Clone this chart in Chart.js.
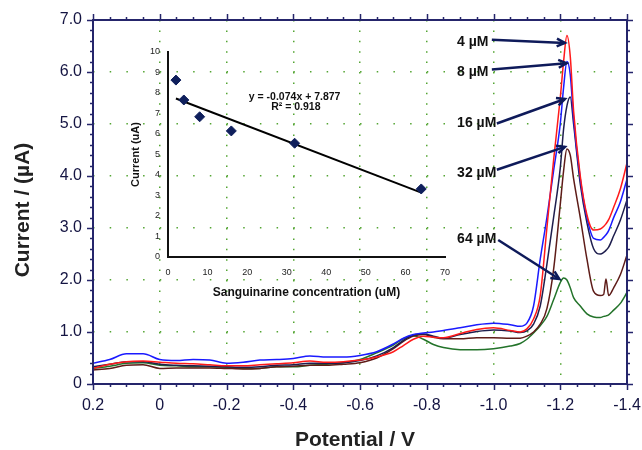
<!DOCTYPE html>
<html>
<head>
<meta charset="utf-8">
<script src="https://cdn.jsdelivr.net/npm/chart.js@4.4.0/dist/chart.umd.min.js"></script>
<style>
  html, body { margin: 0; padding: 0; background: #fff; }
  #wrap { position: relative; width: 642px; height: 450px; }
  #mainChart { position: absolute; left: 0; top: 0; }
  #insetChart { position: absolute; left: 120px; top: 40px; }
</style>
</head>
<body>
<div id="wrap">
  <canvas id="mainChart" width="642" height="450"></canvas>
  <canvas id="insetChart" width="340" height="265"></canvas>
</div>
<script>
// Data ------------------------------------------------------------

// potential (V), scanned from 0.2 down to -1.4
const potentials = [0.2, 0.15, 0.1, 0.05, 0, -0.05, -0.1, -0.15, -0.2, -0.25, -0.3, -0.35, -0.4, -0.45, -0.5, -0.55, -0.6, -0.65, -0.7,
  -0.73, -0.76, -0.79, -0.82, -0.85, -0.9, -0.95, -1.0, -1.05,
  -1.08, -1.1, -1.12, -1.14, -1.16, -1.18, -1.2, -1.21, -1.22, -1.23, -1.24,
  -1.26, -1.28, -1.3, -1.32, -1.33, -1.337, -1.345, -1.36, -1.38, -1.4];

// current (uA) for each concentration
const current4uM = [0.30, 0.38, 0.43, 0.44, 0.42, 0.40, 0.39, 0.37, 0.35, 0.35, 0.37, 0.39, 0.41, 0.44, 0.42, 0.43, 0.46, 0.52, 0.62,
  0.74, 0.86, 0.92, 0.90, 0.89, 0.97, 1.05, 1.08, 1.03,
  1.00, 1.06, 1.25, 1.70, 3.00, 4.30, 5.50, 6.20, 6.70, 6.30, 5.25,
  4.00, 3.25, 2.96, 2.98, 3.03, 3.08, 3.16, 3.40, 3.75, 4.25];
const current8uM = [0.40, 0.47, 0.58, 0.58, 0.47, 0.45, 0.47, 0.46, 0.40, 0.42, 0.46, 0.47, 0.49, 0.54, 0.52, 0.52, 0.55, 0.62, 0.77,
  0.88, 0.95, 0.98, 1.00, 1.03, 1.08, 1.14, 1.17, 1.14,
  1.11, 1.17, 1.50, 2.40, 3.20, 4.10, 5.00, 5.70, 6.20, 5.95, 5.10,
  3.95, 3.20, 2.80, 2.77, 2.82, 2.87, 2.95, 3.20, 3.50, 3.94];
const current16uM = [0.33, 0.38, 0.43, 0.43, 0.38, 0.36, 0.35, 0.34, 0.33, 0.32, 0.33, 0.36, 0.37, 0.40, 0.40, 0.41, 0.45, 0.54, 0.70,
  0.84, 0.94, 0.96, 0.92, 0.88, 0.95, 1.01, 1.04, 1.02,
  0.99, 1.02, 1.15, 1.50, 2.30, 3.20, 4.15, 4.90, 5.35, 5.52, 5.00,
  3.85, 3.10, 2.60, 2.50, 2.53, 2.57, 2.63, 2.85, 3.15, 3.54];
const current32uM = [0.27, 0.30, 0.36, 0.37, 0.30, 0.31, 0.31, 0.31, 0.30, 0.29, 0.30, 0.33, 0.34, 0.36, 0.36, 0.38, 0.41, 0.50, 0.68,
  0.82, 0.92, 0.95, 0.90, 0.87, 0.87, 0.89, 0.89, 0.88,
  0.88, 0.92, 1.00, 1.15, 1.45, 2.20, 3.45, 4.10, 4.52, 4.40, 3.95,
  3.20, 2.40, 1.78, 1.70, 1.72, 2.02, 1.70, 1.85, 2.10, 2.48];
const current64uM = [0.30, 0.34, 0.40, 0.41, 0.36, 0.35, 0.33, 0.33, 0.32, 0.30, 0.30, 0.33, 0.33, 0.36, 0.38, 0.41, 0.47, 0.60, 0.75,
  0.87, 0.93, 0.86, 0.76, 0.70, 0.66, 0.66, 0.68, 0.73,
  0.78, 0.86, 0.98, 1.12, 1.30, 1.62, 1.95, 2.04, 2.00, 1.85, 1.66,
  1.50, 1.35, 1.29, 1.28, 1.30, 1.31, 1.33, 1.42, 1.55, 1.76];

const seriesNames = ['4 µM', '8 µM', '16 µM', '32 µM', '64 µM'];
const seriesValues = [current4uM, current8uM, current16uM, current32uM, current64uM];
const seriesColors = ['#ff1a1a', '#1a1aff', '#1e1e4e', '#5e1c18', '#23732a'];

// inset: peak current vs concentration
const concentrations = [2, 4, 8, 16, 32, 64];
const peakCurrents = [8.63, 7.66, 6.84, 6.15, 5.55, 3.32];
const trendSlope = -0.074;
const trendIntercept = 7.877;

// arrow notes on the main plot (potential, current)
const noteTextAt = [[-0.891, 6.58], [-0.891, 5.99], [-0.891, 5.02], [-0.891, 4.06], [-0.891, 2.78]];
const noteFrom = [[-0.995, 6.62], [-0.995, 6.05], [-1.010, 5.01], [-1.010, 4.12], [-1.014, 2.77]];
const noteTo = [[-1.214, 6.56], [-1.219, 6.17], [-1.214, 5.48], [-1.214, 4.56], [-1.197, 2.02]];

// helpers ---------------------------------------------------------

const FONT = '"Liberation Sans", Arial, sans-serif';
const axisColor = '#25256b';
const dotColor = 'rgba(75, 160, 40, 0.95)';

const isMajor = (v, step) => Math.abs(v / step - Math.round(v / step)) < 1e-6;
const fmt = (v) => Math.abs(v) < 1e-9 ? '0' : v.toFixed(1);

// fixed scale boxes, no extra padding for edge labels
const fixHeight = (h) => (s) => { s.height = h; s.paddingLeft = 0; s.paddingRight = 0; };
const fixWidth = (w) => (s) => { s.width = w; s.paddingTop = 0; s.paddingBottom = 0; };

function drawArrow(ctx, x1, y1, x2, y2) {
  const ang = Math.atan2(y2 - y1, x2 - x1);
  const h = 9;
  ctx.beginPath();
  ctx.moveTo(x1, y1);
  ctx.lineTo(x2, y2);
  ctx.stroke();
  ctx.beginPath();
  ctx.moveTo(x2 - h * Math.cos(ang - 0.45), y2 - h * Math.sin(ang - 0.45));
  ctx.lineTo(x2, y2);
  ctx.lineTo(x2 - h * Math.cos(ang + 0.45), y2 - h * Math.sin(ang + 0.45));
  ctx.stroke();
}

// frame, minor ticks, axis titles and arrows for the main plot
const mainDecor = {
  id: 'mainDecor',
  afterDraw(chart) {
    const { ctx, chartArea: a, scales: { x, y } } = chart;
    ctx.save();
    ctx.strokeStyle = axisColor;
    ctx.lineWidth = 1.5;
    ctx.beginPath();
    x.ticks.forEach(t => {
      const px = Math.round(x.getPixelForValue(t.value)) + 0.5;
      const len = isMajor(t.value, 0.2) ? 6 : 3;
      ctx.moveTo(px, a.bottom); ctx.lineTo(px, a.bottom + len);
      ctx.moveTo(px, a.top); ctx.lineTo(px, a.top - len);
    });
    y.ticks.forEach(t => {
      const py = Math.round(y.getPixelForValue(t.value)) + 0.5;
      const len = isMajor(t.value, 1) ? 6 : 3;
      ctx.moveTo(a.left, py); ctx.lineTo(a.left - len, py);
      ctx.moveTo(a.right, py); ctx.lineTo(a.right + len, py);
    });
    ctx.stroke();
    ctx.lineWidth = 2;
    ctx.strokeRect(a.left, a.top, a.right - a.left, a.bottom - a.top);

    // axis titles
    ctx.fillStyle = '#222';
    ctx.font = 'bold 21px ' + FONT;
    ctx.textAlign = 'center';
    ctx.textBaseline = 'middle';
    ctx.fillText('Potential / V', 355, 440);
    ctx.save();
    ctx.translate(23, 210);
    ctx.rotate(-Math.PI / 2);
    ctx.fillText('Current / (µA)', 0, 0);
    ctx.restore();

    // concentration labels with arrows
    ctx.font = 'bold 14px ' + FONT;
    ctx.textAlign = 'left';
    ctx.fillStyle = '#111';
    ctx.strokeStyle = '#0e1a5a';
    ctx.lineWidth = 2.5;
    seriesNames.forEach((name, i) => {
      ctx.fillText(name, x.getPixelForValue(noteTextAt[i][0]), y.getPixelForValue(noteTextAt[i][1]));
      drawArrow(ctx,
        x.getPixelForValue(noteFrom[i][0]), y.getPixelForValue(noteFrom[i][1]),
        x.getPixelForValue(noteTo[i][0]), y.getPixelForValue(noteTo[i][1]));
    });
    ctx.restore();
  }
};

// main chart -------------------------------------------------------

new Chart(document.getElementById('mainChart'), {
  type: 'line',
  data: {
    datasets: seriesValues.map((vals, i) => ({
      label: seriesNames[i],
      data: vals.map((v, j) => ({ x: potentials[j], y: v })),
      borderColor: seriesColors[i],
      borderWidth: 1.5,
      pointRadius: 0,
      fill: false,
      cubicInterpolationMode: 'monotone'
    }))
  },
  options: {
    responsive: false,
    animation: false,
    layout: { padding: { left: 0, top: 20, right: 15, bottom: 0 } },
    plugins: { legend: { display: false }, tooltip: { enabled: false } },
    scales: {
      x: {
        type: 'linear',
        reverse: true,
        min: -1.4,
        max: 0.2,
        afterFit: fixHeight(66),
        ticks: {
          stepSize: 0.05,
          autoSkip: false,
          maxRotation: 0,
          padding: 12,
          color: '#141442',
          font: { family: FONT, size: 16 },
          callback: (v) => isMajor(v, 0.2) ? fmt(v) : ''
        },
        grid: {
          drawTicks: false,
          lineWidth: 1.5,
          color: (c) => (c.tick && isMajor(c.tick.value, 0.2) && c.tick.value < 0.19 && c.tick.value > -1.39) ? dotColor : 'rgba(0,0,0,0)'
        },
        border: { display: false, dash: [1.5, 8.9] }
      },
      y: {
        min: 0,
        max: 7,
        afterFit: fixWidth(93),
        ticks: {
          stepSize: 0.2,
          autoSkip: false,
          padding: 11,
          color: '#141442',
          font: { family: FONT, size: 16 },
          callback: (v) => isMajor(v, 1) ? fmt(v) : ''
        },
        grid: {
          drawTicks: false,
          lineWidth: 1.5,
          color: (c) => (c.tick && isMajor(c.tick.value, 1) && c.tick.value > 0.5 && c.tick.value < 6.5) ? dotColor : 'rgba(0,0,0,0)'
        },
        border: { display: false, dash: [1.5, 15.19] }
      }
    }
  },
  plugins: [mainDecor]
});

// inset chart ------------------------------------------------------

const insetText = {
  id: 'insetText',
  afterDraw(chart) {
    const { ctx, scales: { x, y } } = chart;
    ctx.save();
    ctx.fillStyle = '#111';
    ctx.font = 'bold 10.5px ' + FONT;
    ctx.textAlign = 'center';
    ctx.textBaseline = 'middle';
    ctx.fillText('y = -0.074x + 7.877', x.getPixelForValue(32), y.getPixelForValue(7.82));
    ctx.fillText('R² = 0.918', x.getPixelForValue(32.3), y.getPixelForValue(7.30));
    ctx.restore();
  }
};

const trendX = [concentrations[0], concentrations[concentrations.length - 1]];

new Chart(document.getElementById('insetChart'), {
  type: 'scatter',
  data: {
    datasets: [
      {
        data: concentrations.map((c, i) => ({ x: c, y: peakCurrents[i] })),
        pointStyle: 'rectRot',
        pointRadius: 5,
        backgroundColor: '#0f1f5c',
        borderColor: '#0f1f5c',
        borderWidth: 1
      },
      {
        type: 'line',
        data: trendX.map(c => ({ x: c, y: trendSlope * c + trendIntercept })),
        borderColor: '#000',
        borderWidth: 2,
        pointRadius: 0,
        fill: false
      }
    ]
  },
  options: {
    responsive: false,
    animation: false,
    layout: { padding: { left: 0, top: 12, right: 15, bottom: 0 } },
    plugins: { legend: { display: false }, tooltip: { enabled: false } },
    scales: {
      x: {
        type: 'linear',
        min: 0,
        max: 70,
        afterFit: fixHeight(48),
        ticks: { stepSize: 10, autoSkip: false, maxRotation: 0, padding: 10, color: '#222', font: { family: FONT, size: 9 } },
        grid: { display: false, drawTicks: false },
        border: { color: '#111', width: 2 },
        title: {
          display: true,
          text: 'Sanguinarine concentration (uM)',
          color: '#111',
          font: { family: FONT, size: 12, weight: 'bold' },
          padding: { top: 0, bottom: 5 }
        }
      },
      y: {
        min: 0,
        max: 10,
        afterFit: fixWidth(48),
        ticks: { stepSize: 1, autoSkip: false, padding: 8, color: '#222', font: { family: FONT, size: 9 } },
        grid: { display: false, drawTicks: false },
        border: { color: '#111', width: 2 },
        title: {
          display: true,
          text: 'Current (uA)',
          color: '#111',
          font: { family: FONT, size: 11, weight: 'bold' },
          padding: { top: 9, bottom: 0 }
        }
      }
    }
  },
  plugins: [insetText]
});
</script>
</body>
</html>
